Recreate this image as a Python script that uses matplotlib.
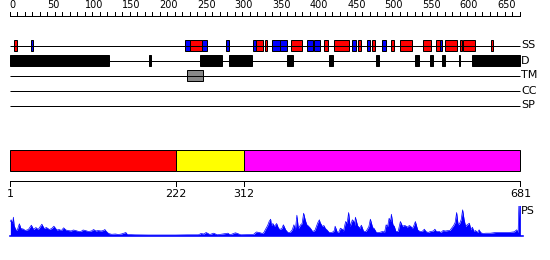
import matplotlib
matplotlib.use("Agg")
import matplotlib.pyplot as plt
from matplotlib.patches import Rectangle

# ---------------- data ----------------
seq_len = 681
ruler_ticks = list(range(0, 681, 10))
ruler_labels = list(range(0, 651, 50))

track_names = ["SS", "D", "TM", "CC", "SP"]

ss_start = [6, 28, 234, 240, 257, 288, 325, 329, 340, 350, 361, 375, 397, 406, 419,
            433, 457, 465, 477, 483, 497, 509, 521, 551, 568, 574, 581, 600, 605, 642]
ss_end = [10, 31, 240, 257, 263, 292, 329, 338, 343, 360, 370, 390, 404, 414, 424,
          453, 462, 468, 480, 487, 502, 513, 537, 562, 574, 577, 596, 603, 621, 645]
ss_type = ["H", "E", "E", "H", "E", "E", "E", "H", "H", "E", "E", "H", "E", "E", "H",
           "H", "E", "H", "E", "H", "E", "H", "H", "H", "H", "E", "H", "H", "H", "H"]

dis_start = [1, 186, 254, 292, 370, 426, 489, 541, 561, 577, 599, 617]
dis_end = [133, 189, 283, 323, 378, 431, 493, 546, 565, 581, 601, 681]

tm_start = [237]
tm_end = [258]

domain_bounds = [1, 222, 312, 681]
domain_colors = ["#ff0000", "#ffff00", "#ff00ff"]

ps_pos = [1, 2, 4, 5, 6, 8, 10, 13, 15, 18, 21, 25, 29, 32, 35, 38, 43, 46, 49, 53,
          56, 59, 63, 66, 69, 72, 75, 78, 82, 85, 88, 92, 95, 98, 101, 105, 109, 112,
          115, 118, 122, 125, 127, 129, 132, 136, 141, 145, 149, 155, 157, 167, 185,
          203, 221, 237, 252, 255, 259, 262, 267, 272, 277, 291, 294, 301, 304, 308,
          325, 329, 333, 337, 339, 341, 344, 346, 348, 349, 351, 353, 355, 356, 358,
          360, 363, 365, 368, 371, 374, 377, 379, 381, 383, 385, 388, 390, 392, 394,
          396, 398, 401, 404, 407, 409, 411, 413, 414, 417, 419, 421, 423, 426, 430,
          433, 434, 437, 439, 441, 444, 445, 448, 450, 452, 454, 457, 459, 460, 461,
          464, 467, 469, 472, 475, 477, 479, 481, 484, 486, 489, 493, 497, 500, 502,
          504, 506, 508, 509, 511, 513, 515, 518, 521, 524, 526, 528, 530, 533, 535,
          537, 539, 541, 544, 547, 550, 553, 555, 558, 561, 565, 567, 569, 573, 575,
          578, 581, 585, 587, 589, 592, 594, 596, 598, 600, 602, 604, 606, 608, 610,
          613, 615, 617, 619, 621, 624, 626, 628, 631, 635, 641, 648, 657, 666, 673,
          676, 678, 679, 680, 681]
ps_val = [14, 15.7, 12, 18.3, 10, 6, 5, 11.7, 7, 6.5, 5, 6, 10.3, 6, 8, 6, 11.3, 7, 8, 6,
          7, 9.3, 5.5, 6, 5, 7.7, 5.5, 5, 4.5, 5.5, 5, 4, 4, 5.5, 5, 4, 4.5, 6,
          4.5, 5, 4.5, 5, 6, 4, 2, 1.2, 1.5, 1, 1.5, 3, 1, 0.7, 0.5,
          0.5, 0.5, 0.7, 0.7, 2, 1.5, 3, 1, 2.3, 0.7, 2.3, 0.7, 2.7, 2, 0.7,
          1, 3.5, 3, 2, 3, 6, 10, 14, 16.3, 10, 12, 9, 11, 12, 8,
          6, 7, 10.7, 5.7, 3, 3, 6, 10.7, 5.7, 20.3, 7, 10.7, 12, 22.3, 16,
          11, 9.7, 7.3, 4, 5, 9, 13, 15.7, 13, 9, 10, 7, 5.7, 3, 3,
          5, 9.3, 3, 3.5, 7.3, 6, 4, 14, 12.3, 23, 9, 15.7, 14, 10, 18.3,
          9.7, 7.3, 10.3, 4, 4, 6.3, 9, 16.3, 8, 7, 3, 3, 4, 3.5, 10.7,
          9, 17.3, 14, 21.3, 11, 9, 4, 4, 14, 9, 10, 9.7, 8.3, 10, 9,
          7, 10, 14, 5.7, 4, 4, 6.3, 4, 3, 4, 4.5, 6.3, 4, 4, 3,
          5, 4.5, 5, 5, 7, 10, 13, 23, 10.7, 12, 15.7, 25.7, 15.7, 9, 10.7,
          12.3, 5.7, 8.3, 4, 5, 3, 5.7, 3, 2, 2.3, 2.3, 3, 3, 3, 3.7,
          5.7, 3, 30, 30, 30]

# ---------------- layout ----------------
W, H = 550, 260
PX = 0.72  # one pixel in points at dpi 100
x_left = 0.5 - 10 / 0.75
x_right = 0.5 + 540 / 0.75

fig = plt.figure(figsize=(5.5, 2.6), dpi=100)
ax = fig.add_axes([0, 0, 1, 1])
ax.set_xlim(x_left, x_right)
ax.set_ylim(H, 0)
ax.axis("off")

# top ruler
ruler_y = 15.5
ax.plot([0, 681], [ruler_y, ruler_y], color="black", lw=PX, solid_capstyle="butt")
for t in ruler_ticks:
    ax.plot([t, t], [ruler_y, ruler_y - 3.5], color="black", lw=PX)
for t in ruler_labels:
    ax.text(t, 10.5, str(t), ha="left", va="bottom", fontsize=7, color="black")

# tracks
track_y = {"SS": 45.5, "D": 60.5, "TM": 75.5, "CC": 90.5, "SP": 105.5}
box_h = 10.5
for name in track_names:
    y = track_y[name]
    ax.plot([0.5, 681], [y, y], color="black", lw=PX, solid_capstyle="butt")
    ax.text(682, y, name, ha="left", va="center", fontsize=8, color="black")

ss_colors = {"H": "#ff0000", "E": "#0000ff"}
for s, e, t in zip(ss_start, ss_end, ss_type):
    ax.add_patch(Rectangle((s, track_y["SS"] - box_h / 2), e - s, box_h,
                           facecolor=ss_colors[t], edgecolor="black", lw=PX))
for s, e in zip(dis_start, dis_end):
    ax.add_patch(Rectangle((s, track_y["D"] - box_h / 2), e - s, box_h,
                           facecolor="black", edgecolor="black", lw=PX))
for s, e in zip(tm_start, tm_end):
    ax.add_patch(Rectangle((s, track_y["TM"] - box_h / 2), e - s, box_h,
                           facecolor="#888888", edgecolor="black", lw=PX))

# domain bar
for i, c in enumerate(domain_colors):
    s, e = domain_bounds[i], domain_bounds[i + 1]
    ax.add_patch(Rectangle((s, 150), e - s, 20.5, facecolor=c, edgecolor="black", lw=PX))

# bottom axis
axis_y = 180.5
ax.plot([domain_bounds[0], domain_bounds[-1]], [axis_y, axis_y], color="black", lw=PX)
for b in domain_bounds:
    ax.plot([b, b], [axis_y, axis_y + 5.5], color="black", lw=PX)
    ax.text(b, 189, str(b), ha="center", va="top", fontsize=8, color="black")

# PS profile
base_px = 235.5
top_val = 30
axp = fig.add_axes([0, (H - base_px) / H, 1, top_val / H])
axp.set_xlim(x_left, x_right)
axp.set_ylim(0, top_val)
axp.axis("off")
axp.fill_between(ps_pos, 0, ps_val, color="#0000ff", lw=0)
axp.plot(ps_pos, ps_val, color="#0000ff", lw=0.5)
axp.plot([0.5, 685], [0, 0], color="#0000ff", lw=1.6 * PX, clip_on=False)
ax.text(682, 211, "PS", ha="left", va="center", fontsize=8, color="black")

fig.savefig("out.png", dpi=100)
